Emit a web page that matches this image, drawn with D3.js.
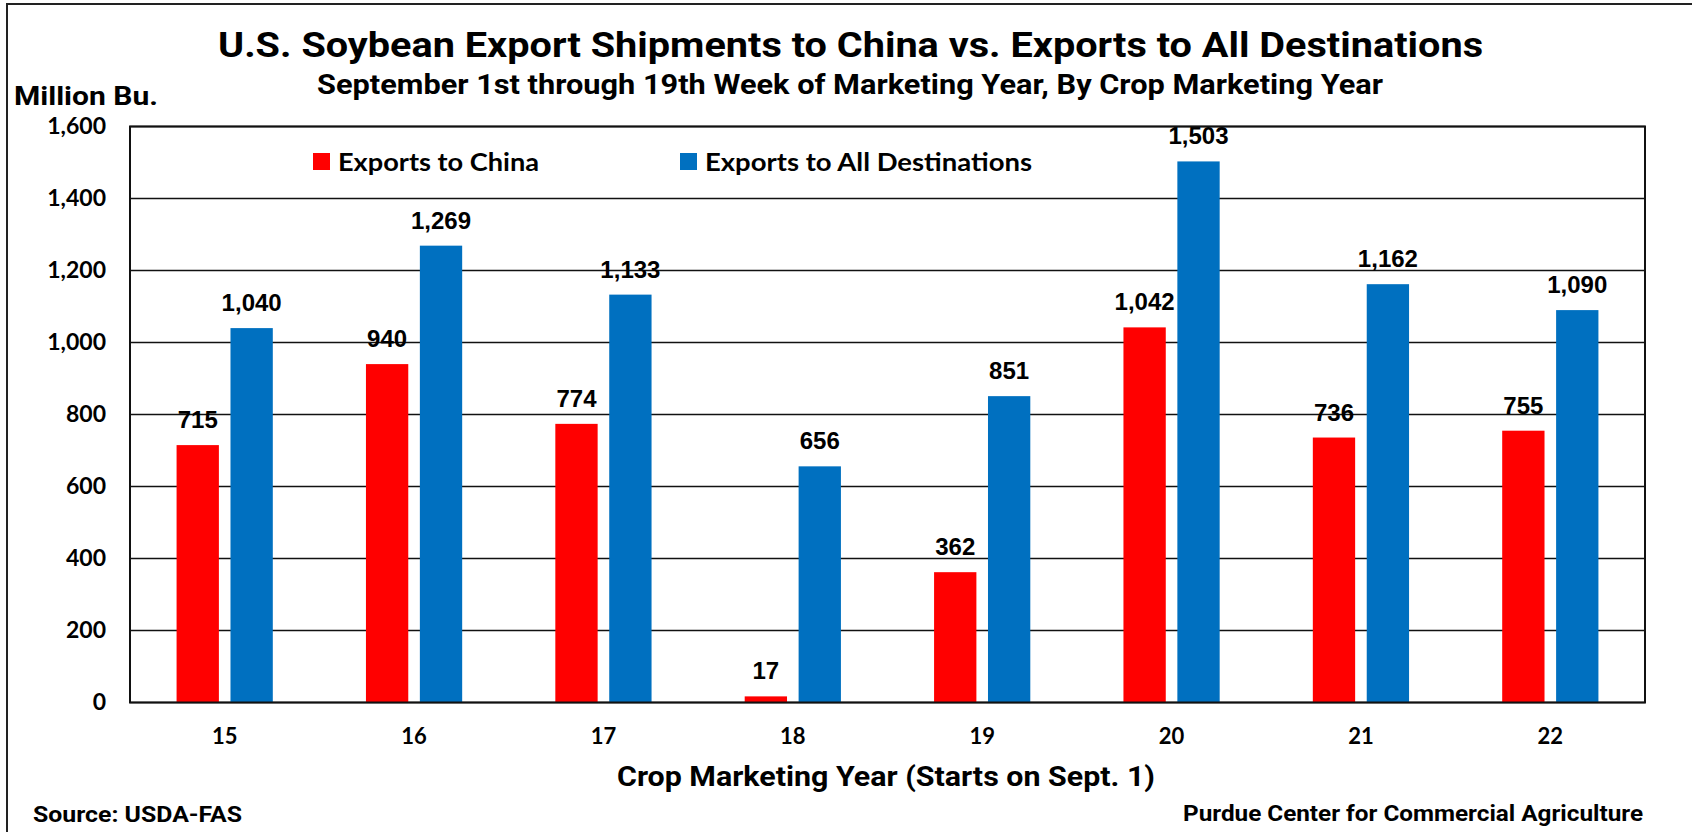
<!DOCTYPE html>
<html>
<head>
<meta charset="utf-8">
<script src="https://cdn.jsdelivr.net/npm/d3@7"></script>
<style>
  html, body { margin: 0; padding: 0; background: #fff; }
  svg { display: block; }
</style>
</head>
<body>
<svg id="chart" width="1692" height="832"></svg>
<script>
const categories = ["15", "16", "17", "18", "19", "20", "21", "22"];
const seriesNames = ["Exports to China", "Exports to All Destinations"];
const chinaValues = [715, 940, 774, 17, 362, 1042, 736, 755];
const allValues = [1040, 1269, 1133, 656, 851, 1503, 1162, 1090];
const yTicks = [0, 200, 400, 600, 800, 1000, 1200, 1400, 1600];
const colors = ["#FF0000", "#0070C0"];

const svg = d3.select("#chart");
const W = 1692, H = 832;
const plot = { left: 130, right: 1645, top: 126.5, bottom: 702.5 };

svg.append("rect").attr("x", 0).attr("y", 0).attr("width", W).attr("height", H).attr("fill", "#fff");
// outer frame
svg.append("rect").attr("x", 7).attr("y", 4).attr("width", W + 10).attr("height", H + 10)
  .attr("fill", "none").attr("stroke", "#222").attr("stroke-width", 2);

const x0 = d3.scaleBand().domain(categories).range([plot.left, plot.right]).paddingInner(0).paddingOuter(0);
const x1 = d3.scaleBand().domain(seriesNames).range([0, x0.bandwidth()]).paddingInner(0.215).paddingOuter(0.864);
const y = d3.scaleLinear().domain([0, 1600]).range([plot.bottom, plot.top]);

// gridlines
svg.append("g").selectAll("line").data(yTicks).join("line")
  .attr("x1", plot.left).attr("x2", plot.right)
  .attr("y1", d => y(d)).attr("y2", d => y(d))
  .attr("stroke", "#111").attr("stroke-width", 1.5);

const data = categories.map((c, i) => ({ cat: c, vals: [
  { s: seriesNames[0], v: chinaValues[i], c: colors[0] },
  { s: seriesNames[1], v: allValues[i], c: colors[1] }
]}));

const groups = svg.append("g").selectAll("g").data(data).join("g")
  .attr("transform", d => `translate(${x0(d.cat)},0)`);

groups.selectAll("rect").data(d => d.vals).join("rect")
  .attr("x", d => x1(d.s)).attr("width", x1.bandwidth())
  .attr("y", d => y(d.v)).attr("height", d => y(0) - y(d.v))
  .attr("fill", d => d.c);

groups.selectAll("text").data(d => d.vals).join("text")
  .attr("x", d => x1(d.s) + x1.bandwidth() / 2)
  .attr("y", d => y(d.v) - 17)
  .attr("text-anchor", "middle")
  .attr("font-family", "'Liberation Sans', Arial, sans-serif")
  .attr("font-weight", "bold").attr("font-size", 24).attr("fill", "#000")
  .text(d => d3.format(",")(d.v));

// plot border
svg.append("rect").attr("x", plot.left).attr("y", plot.top)
  .attr("width", plot.right - plot.left).attr("height", plot.bottom - plot.top)
  .attr("fill", "none").attr("stroke", "#111").attr("stroke-width", 2);

// y axis
const yAxis = svg.append("g").attr("transform", `translate(${plot.left},0)`)
  .call(d3.axisLeft(y).tickValues(yTicks).tickFormat(d3.format(",")).tickSize(0).tickPadding(24));
yAxis.select(".domain").remove();
yAxis.selectAll("text").attr("font-family", "Lato, 'Open Sans', sans-serif")
  .attr("font-weight", "bold").attr("font-size", 23).attr("fill", "#000");

// x axis
const xAxis = svg.append("g").attr("transform", `translate(0,${plot.bottom})`)
  .call(d3.axisBottom(x0).tickSize(0));
xAxis.select(".domain").remove();
xAxis.selectAll("text").attr("y", 41).attr("dy", "0")
  .attr("font-family", "Lato, 'Open Sans', sans-serif")
  .attr("font-weight", "bold").attr("font-size", 22).attr("fill", "#000");

// legend
const legendItems = [
  { name: seriesNames[0], color: colors[0], sx: 313, tx: 338, tw: 201 },
  { name: seriesNames[1], color: colors[1], sx: 680, tx: 705, tw: 327 }
];
const lg = svg.append("g");
legendItems.forEach(it => {
  lg.append("rect").attr("x", it.sx).attr("y", 153).attr("width", 17).attr("height", 17).attr("fill", it.color);
  lg.append("text").attr("x", it.tx).attr("y", 171)
    .attr("font-family", "Lato, 'Open Sans', sans-serif").attr("font-weight", "bold").attr("font-size", 25)
    .attr("textLength", it.tw).attr("lengthAdjust", "spacingAndGlyphs")
    .attr("fill", "#000").text(it.name);
});

function addText(txt, xx, yy, size, len, family) {
  const t = svg.append("text").attr("x", xx).attr("y", yy)
    .attr("font-family", family || "Roboto, 'Liberation Sans', sans-serif")
    .attr("font-weight", "bold").attr("font-size", size).attr("fill", "#000").text(txt);
  if (len) t.attr("textLength", len).attr("lengthAdjust", "spacingAndGlyphs");
  return t;
}

addText("U.S. Soybean Export Shipments to China vs. Exports to All Destinations", 218, 57, 35, 1265);
addText("September 1st through 19th Week of Marketing Year, By Crop Marketing Year", 317, 94, 27, 1066);
addText("Million Bu.", 14, 105, 26, 144);
addText("Crop Marketing Year (Starts on Sept. 1)", 617, 786, 28, 538);
addText("Source: USDA-FAS", 33, 822, 22, 209);
addText("Purdue Center for Commercial Agriculture", 1183, 821, 22, 460);
</script>
</body>
</html>
